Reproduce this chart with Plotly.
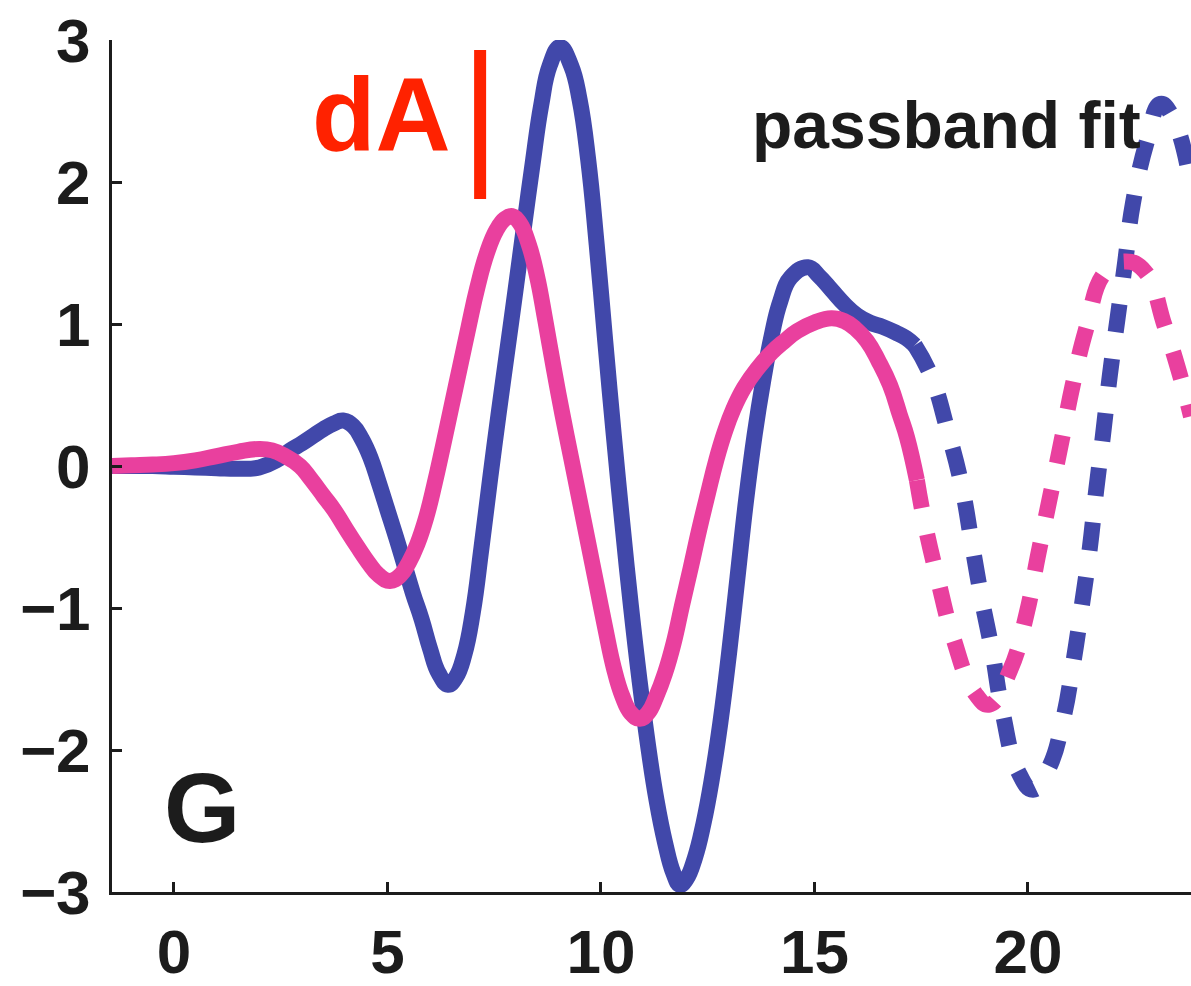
import plotly.graph_objects as go

# ---- data -------------------------------------------------------------
# blue trace, measured segment (solid)
blue_t = [-1.45, -1.0, -0.5, 0.0, 0.5, 1.0, 1.5, 2.0, 2.4, 2.72, 3.0, 3.25, 3.5, 3.75,
          3.96, 4.2, 4.4, 4.6, 4.8, 5.0, 5.2, 5.4, 5.6, 5.8, 6.0, 6.2, 6.42, 6.6, 6.8,
          7.0, 7.2, 7.4, 7.6, 7.8, 8.0, 8.2, 8.4, 8.6, 8.8, 9.04, 9.3, 9.5, 9.7,
          9.9, 10.1, 10.3, 10.5, 10.7, 10.9, 11.1, 11.3, 11.5, 11.7, 11.85, 12.0, 12.2,
          12.4, 12.6, 12.8, 13.0, 13.2, 13.4, 13.6, 13.8, 14.0, 14.2, 14.45, 14.85,
          15.1, 15.4, 15.7, 16.0, 16.3, 16.6, 16.9, 17.15, 17.35]
blue_y = [0.0, 0.0, 0.0, -0.005, -0.01, -0.015, -0.02, -0.01, 0.04, 0.11, 0.16, 0.21,
          0.26, 0.30, 0.32, 0.28, 0.19, 0.06, -0.12, -0.31, -0.50, -0.70, -0.90, -1.08,
          -1.29, -1.46, -1.54, -1.49, -1.33, -1.03, -0.58, -0.10, 0.36, 0.80,
          1.24, 1.69, 2.13, 2.54, 2.82, 2.95, 2.82, 2.58, 2.16, 1.56, 0.88, 0.22, -0.40,
          -0.98, -1.50, -1.96, -2.35, -2.65, -2.87, -2.95, -2.91, -2.76, -2.52, -2.20,
          -1.80, -1.32, -0.78, -0.24, 0.22, 0.60, 0.92, 1.16, 1.33, 1.40, 1.34, 1.24,
          1.14, 1.06, 1.01, 0.98, 0.94, 0.90, 0.85]

# blue trace, passband fit (dashed)
blue_fit_t = [17.35, 17.75, 18.12, 18.45, 18.69, 18.92, 19.16, 19.41, 19.77, 20.12, 20.5,
              20.82, 21.05, 21.26, 21.45, 21.6, 21.76, 21.92, 22.1, 22.28, 22.46, 22.8,
              23.1, 23.4, 23.82]
blue_fit_y = [0.85, 0.62, 0.25, -0.14, -0.55, -0.94, -1.30, -1.74, -2.15, -2.28, -2.12,
              -1.79, -1.41, -0.99, -0.58, -0.17, 0.22, 0.64, 1.04, 1.44, 1.85, 2.30,
              2.55, 2.45, 1.98]

# pink trace, measured segment (solid)
pink_t = [-1.45, -1.0, -0.5, 0.0, 0.5, 1.0, 1.5, 2.0, 2.3, 2.6, 2.95, 3.2, 3.5, 3.75,
          4.0, 4.3, 4.55, 4.8, 5.06, 5.3, 5.5, 5.7, 5.9, 6.1, 6.3, 6.5, 6.7, 6.9, 7.1,
          7.33, 7.55, 7.75, 7.92, 8.1, 8.3, 8.5, 8.7, 8.9, 9.1, 9.3, 9.5, 9.7, 9.9,
          10.1, 10.3, 10.5, 10.7, 10.91, 11.1, 11.3, 11.5, 11.7, 11.9, 12.1, 12.3,
          12.5, 12.7, 12.9, 13.1, 13.35, 13.65, 14.0, 14.3, 14.6, 15.0, 15.4, 15.7,
          15.95, 16.23, 16.5, 16.77, 17.0, 17.17, 17.4]
pink_y = [0.0, 0.005, 0.01, 0.02, 0.04, 0.07, 0.10, 0.12, 0.11, 0.07, 0.0, -0.09,
          -0.21, -0.31, -0.43, -0.57, -0.68, -0.77, -0.81, -0.77, -0.68, -0.55, -0.37,
          -0.13, 0.14, 0.42, 0.70, 0.98, 1.25, 1.50, 1.66, 1.74, 1.76, 1.71, 1.57,
          1.34, 1.02, 0.68, 0.36, 0.06, -0.24, -0.54, -0.84, -1.14, -1.42, -1.62,
          -1.74, -1.78, -1.74, -1.62, -1.46, -1.25, -0.98, -0.72, -0.45, -0.20, 0.04,
          0.24, 0.40, 0.55, 0.68, 0.80, 0.88, 0.95, 1.01, 1.04, 1.02, 0.97, 0.88,
          0.74, 0.57, 0.36, 0.20, -0.10]

# pink trace, passband fit (dashed)
pink_fit_t = [17.4, 17.59, 17.9, 18.25, 18.76, 19.1, 19.58, 19.97, 20.23, 20.51, 20.79,
              21.05, 21.35, 21.8, 22.27, 22.74, 23.2, 23.6, 23.82]
pink_fit_y = [-0.10, -0.41, -0.81, -1.21, -1.60, -1.68, -1.44, -1.04, -0.64, -0.23, 0.18,
              0.57, 0.95, 1.36, 1.44, 1.37, 0.99, 0.60, 0.35]

x_ticks = [0, 5, 10, 15, 20]
x_tick_text = ["0", "5", "10", "15", "20"]
y_ticks = [-3, -2, -1, 0, 1, 2, 3]
y_tick_text = ["\u22123", "\u22122", "\u22121", "0", "1", "2", "3"]

# dA scale bar: one unit tall
scale_x = 7.17
scale_y0 = 1.88
scale_y1 = 2.93

# ---- style ------------------------------------------------------------
BLUE = "#4148AA"
PINK = "#E9409E"
RED = "#FF2200"
INK = "#1c1c1c"
FONT = "Liberation Sans, Arial, Helvetica, sans-serif"
LW = 16
DASH = "28px,27px"
SMOOTH = 1.3

fig = go.Figure()
fig.add_trace(go.Scatter(x=blue_fit_t, y=blue_fit_y, mode="lines",
                         line=dict(color=BLUE, width=LW, dash=DASH, shape="spline",
                                   smoothing=SMOOTH)))
fig.add_trace(go.Scatter(x=pink_fit_t, y=pink_fit_y, mode="lines",
                         line=dict(color=PINK, width=LW, dash=DASH, shape="spline",
                                   smoothing=SMOOTH)))
fig.add_trace(go.Scatter(x=blue_t, y=blue_y, mode="lines",
                         line=dict(color=BLUE, width=LW, shape="spline", smoothing=SMOOTH)))
fig.add_trace(go.Scatter(x=pink_t, y=pink_y, mode="lines",
                         line=dict(color=PINK, width=LW, shape="spline", smoothing=SMOOTH)))

fig.add_shape(type="line", xref="x", yref="y", x0=scale_x, x1=scale_x,
              y0=scale_y0, y1=scale_y1, line=dict(color=RED, width=12))

fig.add_annotation(x=4.85, y=2.48, xref="x", yref="y", text="dA", showarrow=False,
                   xanchor="center", yanchor="middle",
                   font=dict(family=FONT, size=104, color=RED, weight="bold"))
fig.add_annotation(x=13.49, y=2.40, xref="x", yref="y", text="passband fit",
                   showarrow=False, xanchor="left", yanchor="middle",
                   font=dict(family=FONT, size=66, color=INK, weight="bold"))
fig.add_annotation(x=0.66, y=-2.41, xref="x", yref="y", text="G", showarrow=False,
                   xanchor="center", yanchor="middle",
                   font=dict(family=FONT, size=98, color=INK, weight="bold"))

axis_common = dict(showgrid=False, zeroline=False, showline=True, linecolor=INK,
                   linewidth=3, ticks="inside", ticklen=10, tickwidth=3,
                   tickcolor=INK, tickmode="array",
                   tickfont=dict(family=FONT, size=62, color=INK, weight="bold"))

fig.update_xaxes(range=[-1.452, 23.82], tickvals=x_ticks, ticktext=x_tick_text,
                 ticklabelstandoff=4, **axis_common)
fig.update_yaxes(range=[-3, 3], tickvals=y_ticks, ticktext=y_tick_text,
                 ticklabelstandoff=6, **axis_common)

fig.update_layout(width=1191, height=986, showlegend=False,
                  margin=dict(l=112, r=0, t=40, b=88, pad=0),
                  paper_bgcolor="white", plot_bgcolor="white")

fig.write_html("out.html")
